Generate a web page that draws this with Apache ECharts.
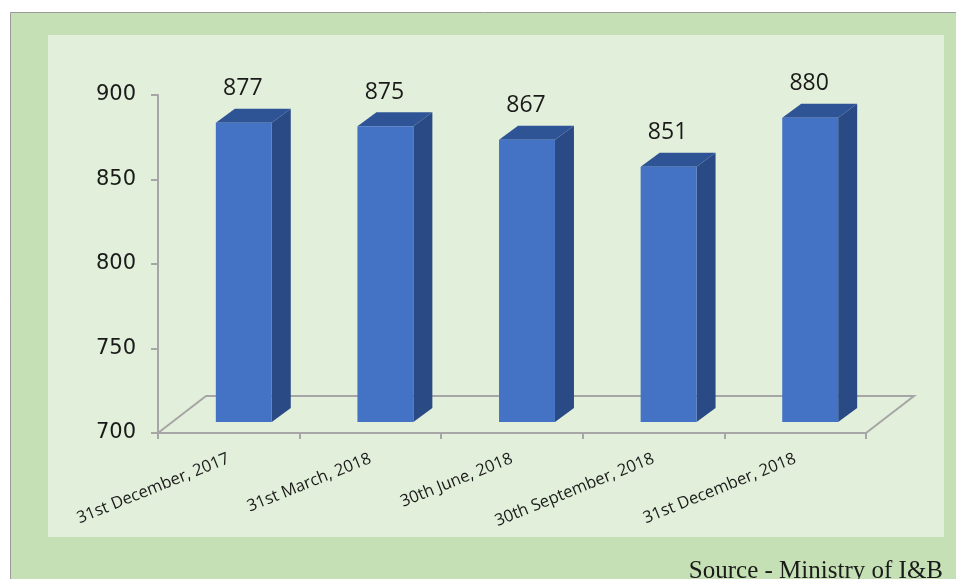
<!DOCTYPE html>
<html>
<head>
<meta charset="utf-8">
<script src="https://cdn.jsdelivr.net/npm/echarts@6.0.0/dist/echarts.min.js"></script>
<style>
  html, body { margin: 0; padding: 0; background: #ffffff; }
  #chart { width: 956px; height: 579px; }
</style>
</head>
<body>
<div id="chart"></div>
<script>
// Quarter-end dates and the counts measured on each
const categories = [
  '31st December, 2017',
  '31st March, 2018',
  '30th June, 2018',
  '30th September, 2018',
  '31st December, 2018'
];
const values = [877, 875, 867, 851, 880];

// Value axis range and step
const yMin = 700;
const yMax = 900;
const yStep = 50;

const sourceText = 'Source - Ministry of I&B';

const barData = values.map((v, i) => [i, v]);

const chart = echarts.init(document.getElementById('chart'), null, { renderer: 'canvas' });

// Depth of the floor plane and of each box (pseudo-3D projection)
const FLOOR_DX = 48, FLOOR_DY = -37;
const BAR_OX = 15, BAR_OY = -11;
const BAR_DX = 19, BAR_DY = -14;

const axisGray = '#a6a6a6';

function renderFloor(params, api) {
  const cs = params.coordSys;
  const xl = cs.x, xr = cs.x + cs.width, yf = cs.y + cs.height;
  return {
    type: 'polyline',
    shape: {
      points: [
        [xl, yf],
        [xl + FLOOR_DX, yf + FLOOR_DY],
        [xr + FLOOR_DX, yf + FLOOR_DY],
        [xr, yf]
      ]
    },
    style: { stroke: axisGray, lineWidth: 2, fill: null }
  };
}

function renderBox(params, api) {
  const i = api.value(0);
  const v = api.value(1);
  const band = api.size([1, 0])[0];
  const base = api.coord([i, yMin]);
  const top = api.coord([i, v]);
  const w = band * 0.395;
  const x0 = base[0] - w / 2 + BAR_OX;
  const x1 = x0 + w;
  const yb = base[1] + BAR_OY;
  const yt = top[1] + BAR_OY;
  return {
    type: 'group',
    children: [
      {
        type: 'polygon',
        shape: { points: [[x1, yt], [x1 + BAR_DX, yt + BAR_DY], [x1 + BAR_DX, yb + BAR_DY], [x1, yb]] },
        style: { fill: '#2a4a86' }
      },
      {
        type: 'polygon',
        shape: { points: [[x0, yt], [x1, yt], [x1 + BAR_DX, yt + BAR_DY], [x0 + BAR_DX, yt + BAR_DY]] },
        style: { fill: '#2f5496' }
      },
      {
        type: 'rect',
        shape: { x: x0, y: yt, width: w, height: yb - yt },
        style: { fill: '#4472c4' }
      },
      {
        type: 'text',
        style: {
          text: String(v),
          x: (x0 + x1) / 2 - 1,
          y: yt - 34,
          align: 'center',
          verticalAlign: 'middle',
          fontFamily: '"Open Sans", sans-serif',
          fontSize: 23,
          fill: '#1a1a1a'
        }
      }
    ]
  };
}

chart.setOption({
  animation: false,
  backgroundColor: '#ffffff',
  graphic: [
    {
      type: 'rect', z: -10,
      shape: { x: 10.5, y: 12.5, width: 960, height: 600 },
      style: { fill: '#c5e0b4', stroke: '#9a9a9a', lineWidth: 1 }
    },
    {
      type: 'rect', z: -9,
      shape: { x: 48, y: 35, width: 896, height: 502 },
      style: { fill: '#e2efda' }
    },
    {
      type: 'text', z: -8,
      style: {
        text: sourceText,
        x: 943, y: 559,
        align: 'right',
        verticalAlign: 'top',
        fontFamily: '"Liberation Serif", serif',
        fontSize: 25,
        fill: '#1a1a1a'
      }
    }
  ],
  grid: { left: 158, right: 90, top: 95, bottom: 146, containLabel: false },
  xAxis: {
    type: 'category',
    data: categories,
    boundaryGap: true,
    axisLine: { show: true, lineStyle: { color: axisGray, width: 2 } },
    axisTick: { show: true, length: 6, lineStyle: { color: axisGray, width: 2 } },
    axisLabel: {
      interval: 0,
      rotate: 22,
      margin: 25,
      fontFamily: '"Open Sans", sans-serif',
      fontSize: 16.5,
      color: '#1a1a1a'
    },
    splitLine: { show: false }
  },
  yAxis: {
    type: 'value',
    min: yMin,
    max: yMax,
    interval: yStep,
    axisLine: { show: true, lineStyle: { color: axisGray, width: 2 } },
    axisTick: { show: true, length: 7, lineStyle: { color: axisGray, width: 2 } },
    axisLabel: {
      margin: 22,
      fontFamily: '"DejaVu Sans", sans-serif',
      fontSize: 21,
      color: '#1a1a1a'
    },
    splitLine: { show: false }
  },
  series: [
    {
      type: 'custom',
      z: 1,
      clip: false,
      silent: true,
      data: [[0, yMin]],
      renderItem: renderFloor
    },
    {
      type: 'custom',
      z: 3,
      clip: false,
      data: barData,
      encode: { x: 0, y: 1 },
      renderItem: renderBox
    }
  ]
});
</script>
</body>
</html>
